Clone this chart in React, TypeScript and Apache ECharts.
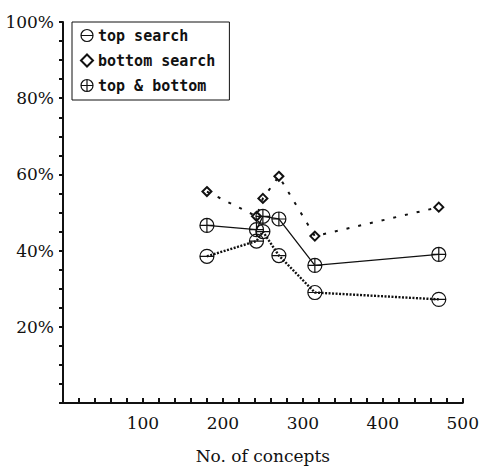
import React, { useEffect, useRef } from "react";
import * as echarts from "echarts";

const concepts = [180, 242, 250, 270, 315, 470];
const topSearch = [38.5, 42.5, 45, 38.7, 29, 27.2];
const bottomSearch = [55.5, 49, 53.7, 59.5, 43.8, 51.4];
const topBottom = [46.6, 45.5, 49, 48.3, 36.1, 39];
const seriesNames = ["top search", "bottom search", "top & bottom"];
const yTickLabels = ["", "20%", "40%", "60%", "80%", "100%"];

const CIRCLE = "M0,-10 A10,10 0 1,1 0,10 A10,10 0 1,1 0,-10 Z";
const MINUS_SYM = "path://" + CIRCLE + " M-10,0 L10,0";
const PLUS_SYM = "path://" + CIRCLE + " M-10,0 L10,0 M0,-10 L0,10";
const DIAMOND_SYM = "path://M0,-10 L10,0 L0,10 L-10,0 Z";

export default function App() {
  const ref = useRef<HTMLDivElement>(null);
  useEffect(() => {
    if (!ref.current) return;
    const chart = echarts.init(ref.current, undefined, { renderer: "svg" });
    const pts = (vals: number[]) => concepts.map((c, i) => [c, vals[i]]);
    const symStyle = (bw: number) => ({
      color: "rgba(255,255,255,0)",
      borderColor: "#111",
      borderWidth: bw,
    });
    chart.setOption({
      animation: false,
      backgroundColor: "#fff",
      grid: { left: 63, right: 19, top: 22, bottom: 54, containLabel: false },
      legend: {
        orient: "vertical",
        left: 72,
        top: 22,
        borderColor: "#111",
        borderWidth: 1,
        padding: [6, 14, 7, 8],
        itemGap: 10,
        itemWidth: 12,
        itemHeight: 12,
        textStyle: {
          fontFamily: "DejaVu Sans Mono",
          fontWeight: "bold",
          fontSize: 15,
          color: "#111",
        },
        data: [
          { name: seriesNames[0], icon: MINUS_SYM, itemStyle: symStyle(1.2) },
          { name: seriesNames[1], icon: DIAMOND_SYM, itemStyle: { ...symStyle(2), }, },
          { name: seriesNames[2], icon: PLUS_SYM, itemStyle: symStyle(1.2) },
        ],
      },
      xAxis: {
        type: "value",
        min: 0,
        max: 500,
        interval: 100,
        name: "No. of concepts",
        nameLocation: "middle",
        nameGap: 44,
        nameTextStyle: { fontFamily: "DejaVu Serif", fontSize: 17, color: "#111" },
        axisLine: { show: true, lineStyle: { color: "#111", width: 2 } },
        axisTick: { show: true, inside: true, length: 5, lineStyle: { color: "#111", width: 2 } },
        minorTick: { show: true, splitNumber: 5, length: 5, lineStyle: { color: "#111", width: 2 } },
        splitLine: { show: false },
        axisLabel: {
          margin: 11,
          fontFamily: "DejaVu Serif",
          fontSize: 17,
          color: "#111",
          formatter: (v: number) => (v === 0 ? "" : String(v)),
        },
      },
      yAxis: {
        type: "value",
        min: 0,
        max: 100,
        interval: 20,
        axisLine: { show: true, lineStyle: { color: "#111", width: 2 } },
        axisTick: { show: true, inside: false, length: 4, lineStyle: { color: "#111", width: 2 } },
        minorTick: { show: true, splitNumber: 4, length: 4, lineStyle: { color: "#111", width: 2 } },
        splitLine: { show: false },
        axisLabel: {
          margin: 9,
          fontFamily: "DejaVu Serif",
          fontSize: 17,
          color: "#111",
          formatter: (v: number) => yTickLabels[Math.round(v / 20)] ?? "",
        },
      },
      series: [
        {
          name: seriesNames[0],
          type: "line",
          data: pts(topSearch),
          symbol: MINUS_SYM,
          symbolSize: 14,
          itemStyle: symStyle(1.2),
          lineStyle: { color: "#111", width: 2.4, type: [2, 1.5] },
          z: 3,
        },
        {
          name: seriesNames[1],
          type: "line",
          data: pts(bottomSearch),
          symbol: DIAMOND_SYM,
          symbolSize: 9,
          itemStyle: symStyle(2),
          lineStyle: { color: "#111", width: 2, type: [3, 9] },
          z: 3,
        },
        {
          name: seriesNames[2],
          type: "line",
          data: pts(topBottom),
          symbol: PLUS_SYM,
          symbolSize: 14,
          itemStyle: symStyle(1.2),
          lineStyle: { color: "#111", width: 1.3, type: "solid" },
          z: 3,
        },
      ],
    });
    return () => chart.dispose();
  }, []);
  return (
    <div
      ref={ref}
      style={{ position: "absolute", left: 0, top: 0, width: 482, height: 469 }}
    />
  );
}
